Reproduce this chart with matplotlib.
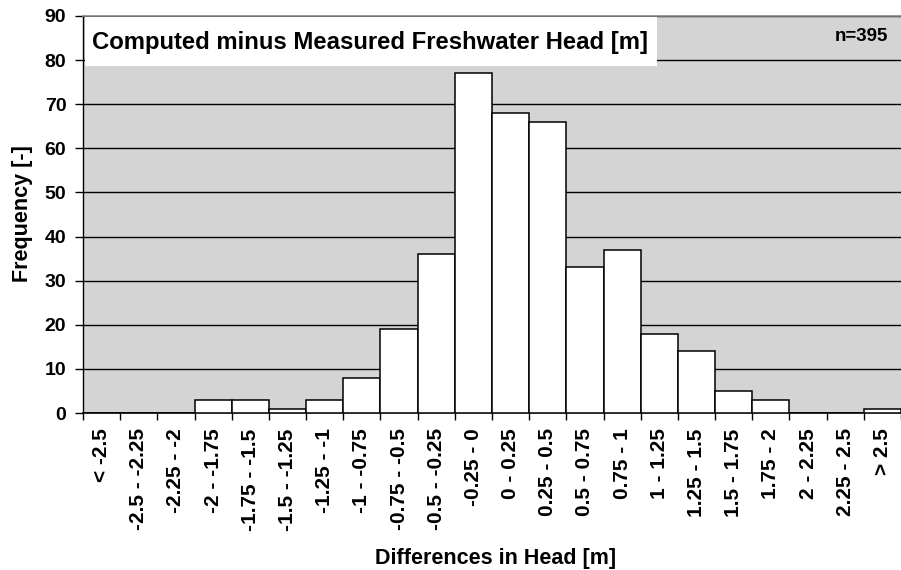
import matplotlib
matplotlib.use("Agg")
import matplotlib.pyplot as plt
from matplotlib.patches import Rectangle
import numpy as np

categories = ["< -2.5", "-2.5 - -2.25", "-2.25 - -2", "-2 - -1.75", "-1.75 - -1.5",
              "-1.5 - -1.25", "-1.25 - -1", "-1 - -0.75", "-0.75 - -0.5", "-0.5 - -0.25",
              "-0.25 - 0", "0 - 0.25", "0.25 - 0.5", "0.5 - 0.75", "0.75 - 1",
              "1 - 1.25", "1.25 - 1.5", "1.5 - 1.75", "1.75 - 2", "2 - 2.25",
              "2.25 - 2.5", "> 2.5"]
counts = [0, 0, 0, 3, 3, 1, 3, 8, 19, 36, 77, 68, 66, 33, 37, 18, 14, 5, 3, 0, 0, 1]
yticks = [0, 10, 20, 30, 40, 50, 60, 70, 80, 90]

plt.rcParams['font.family'] = ['Liberation Sans', 'DejaVu Sans']
plt.rcParams['font.weight'] = 'bold'

fig = plt.figure(figsize=(9.01, 5.70), dpi=100)
ax = fig.add_axes([83/901, 1 - 413/570, 1 - 83/901, (413 - 16)/570])
ax.set_facecolor('#d4d4d4')

x = np.arange(len(categories))
ax.bar(x, counts, width=1.0, color='white', edgecolor='black', linewidth=1.1, zorder=3)

ax.set_xlim(-0.5, len(categories) - 0.5)
ax.set_ylim(0, 90)
ax.set_yticks(yticks)
ax.set_yticklabels([str(v) for v in yticks], fontsize=14, fontweight='bold')
ax.yaxis.grid(True, color='black', linewidth=1.0, zorder=1)
ax.set_axisbelow(True)

ax.set_xticks(x)
ax.set_xticklabels(categories, rotation=90, fontsize=15, fontweight='bold', va='top', ha='center')
ax.set_xticks(np.arange(-0.5, len(categories) - 0.4, 1.0), minor=True)
ax.tick_params(axis='x', which='major', length=0, pad=11)
ax.tick_params(axis='x', which='minor', length=5, width=1.0, color='black')
ax.tick_params(axis='y', which='major', length=6, width=1.0, color='black', pad=6)

ax.spines['top'].set_color('#888888')
ax.spines['top'].set_linewidth(1.2)
ax.spines['right'].set_visible(False)
ax.spines['left'].set_color('black')
ax.spines['bottom'].set_color('black')
ax.spines['left'].set_linewidth(1.0)
ax.spines['bottom'].set_linewidth(1.2)

ax.set_ylabel('Frequency [-]', fontsize=15.5, fontweight='bold')
ax.yaxis.set_label_coords(-0.061, 0.5025)
ax.set_xlabel('Differences in Head [m]', fontsize=15.5, fontweight='bold')
ax.xaxis.set_label_coords(0.504, -0.34)

ax.add_patch(Rectangle((0.0024, 0.874), 0.6993, 0.123, transform=ax.transAxes,
                       facecolor='white', edgecolor='none', zorder=4))
ax.text(0.011, 0.9345, 'Computed minus Measured Freshwater Head [m]', transform=ax.transAxes,
        fontsize=17.2, fontweight='bold', ha='left', va='center', zorder=5)
ax.text(0.984, 0.9496, 'n=395', transform=ax.transAxes, fontsize=13.5, fontweight='bold',
        ha='right', va='center', zorder=5)

fig.savefig('out.png', dpi=100)
